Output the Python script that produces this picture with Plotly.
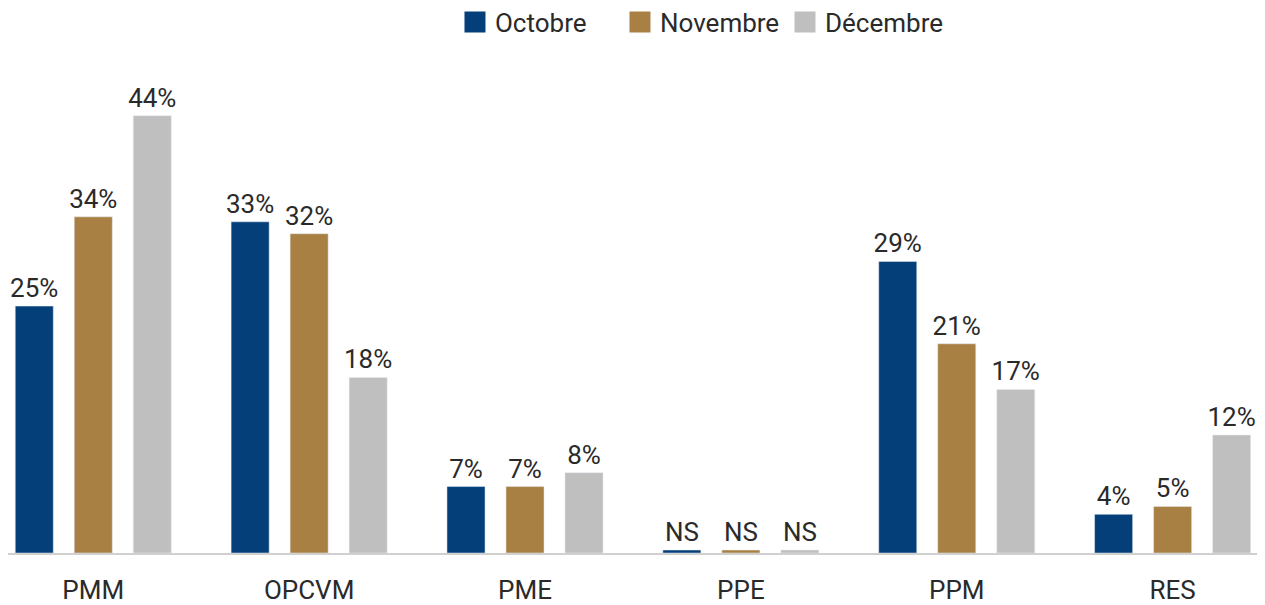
import plotly.graph_objects as go

categories = ["PMM", "OPCVM", "PME", "PPE", "PPM", "RES"]
series_names = ["Octobre", "Novembre", "Décembre"]
octobre = [24.9, 33.4, 6.7, 0.3, 29.4, 3.9]
novembre = [33.9, 32.2, 6.7, 0.3, 21.1, 4.7]
decembre = [44.1, 17.7, 8.1, 0.3, 16.5, 11.9]
octobre_labels = ["25%", "33%", "7%", "NS", "29%", "4%"]
novembre_labels = ["34%", "32%", "7%", "NS", "21%", "5%"]
decembre_labels = ["44%", "18%", "8%", "NS", "17%", "12%"]

colors = ["#043f79", "#a98043", "#bfbfbf"]
FONT = "Roboto, sans-serif"
TXT = "#2a2a2a"
FS = 26

fig = go.Figure()
for name, vals, labels, col in zip(series_names,
                                   [octobre, novembre, decembre],
                                   [octobre_labels, novembre_labels, decembre_labels],
                                   colors):
    fig.add_trace(go.Bar(
        x=categories, y=vals, name=name, marker_color=col,
        text=labels, textposition="outside", cliponaxis=False,
        constraintext="none",
        textfont=dict(family=FONT, size=FS, color=TXT),
        showlegend=False, legendgroup=name,
    ))
    # legend entry with a larger square swatch
    fig.add_trace(go.Scatter(
        x=[None], y=[None], mode="markers", name=name, legendgroup=name,
        marker=dict(symbol="square", size=16, color=col,
                    line=dict(color=col, width=5)),
        showlegend=True,
    ))

fig.update_layout(
    width=1265, height=605,
    margin=dict(l=0, r=0, t=72, b=60, autoexpand=False),
    paper_bgcolor="white", plot_bgcolor="white",
    barmode="group", bargap=0.18, bargroupgap=0.355,
    font=dict(family=FONT, size=FS, color=TXT),
    legend=dict(orientation="h", x=0.549, xanchor="center", y=1.1226, yanchor="middle",
                entrywidth=120, entrywidthmode="pixels",
                font=dict(family=FONT, size=FS, color=TXT)),
    xaxis=dict(type="category", range=[-0.395, 5.465], showgrid=False,
               showline=True, linecolor="#d0d0d0", linewidth=2,
               ticks="", ticklabelstandoff=13,
               tickfont=dict(family=FONT, size=FS, color=TXT)),
    yaxis=dict(range=[0, 47.7], visible=False, showgrid=False, zeroline=False),
)

fig.write_html("out.html")
